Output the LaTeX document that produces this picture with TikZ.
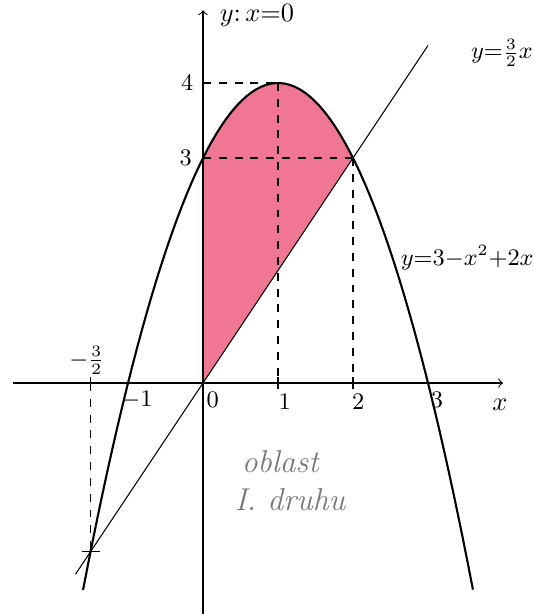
\documentclass[tikz,border=0pt]{standalone}
\usepackage{amsmath, amssymb}
\usepackage{tikz}

\definecolor{areapink}{RGB}{240,118,148}
\definecolor{notegray}{RGB}{120,120,120}

\begin{document}
\begin{tikzpicture}[x=1cm, y=1cm,
    curve/.style={thick, black},
    helper/.style={dashed, thin},
    ticklbl/.style={inner sep=1pt, font=\small}]

    \useasboundingbox (-2.707,-3.08) rectangle (4.4,5.107);

    % ==========================================
    % SHADED REGION
    % Drawn first so it lies behind the curves and axes
    % ==========================================
    \fill[areapink] plot[domain=0:2, samples=40] (\x, {3-\x*\x+2*\x}) -- (0,0) -- cycle;

    % ==========================================
    % KEY POINTS
    % ==========================================
    \coordinate (O) at (0,0);
    \coordinate (Top) at (1,4);
    \coordinate (Meet) at (2,3);
    \coordinate (Low) at (-1.5,-2.25);
    \coordinate (Y4) at (0,4);
    \coordinate (Y3) at (0,3);
    \coordinate (X1) at (1,0);
    \coordinate (X2) at (2,0);
    \coordinate (Xm) at (-1.5,0);

    % ==========================================
    % DASHED HELPER LINES
    % ==========================================
    \draw[helper] (Y4) -- (Top);
    \draw[helper] (Top) -- (X1);
    \draw[helper] (Y3) -- (Meet);
    \draw[helper] (Meet) -- (X2);
    \draw[helper] (Xm) -- (Low);

    % ==========================================
    % AXES
    % ==========================================
    \coordinate (xl) at (-2.53,0);
    \coordinate (xr) at (4.0,0);
    \coordinate (yb) at (0,-3.08);
    \coordinate (yt) at (0,4.97);
    \draw[->] (xl) -- (xr);
    \draw[->] (yb) -- (yt);
    \node[anchor=west] (ylabel) at (0.1,4.9) {$y{:}\,x{=}0$};
    \node (xlabel) at (3.96,-0.29) {$x$};

    % Ticks on the x-axis
    \foreach \t in {-1.5,1,2} {
        \draw (\t,-0.08) -- (\t,0.08);
    }
    \draw (-1.62,-2.25) -- (-1.38,-2.25);

    % Tick labels
    \node[ticklbl] (lm1) at (-0.88,-0.23) {$-1$};
    \node[ticklbl] (l0) at (0.13,-0.23) {$0$};
    \node[ticklbl] (l1) at (1.09,-0.25) {$1$};
    \node[ticklbl] (l2) at (2.07,-0.25) {$2$};
    \node[ticklbl] (l3) at (3.12,-0.23) {$3$};
    \node[ticklbl] (lm32) at (-1.55,0.3) {$-\frac{3}{2}$};
    \node[ticklbl] (l4) at (-0.21,4) {$4$};
    \node[ticklbl] (l3y) at (-0.23,3) {$3$};

    % ==========================================
    % CURVES
    % ==========================================
    % Parabola y = 3 - x^2 + 2x
    \draw[curve] plot[domain=-1.6:3.6, samples=80] (\x, {3-\x*\x+2*\x});
    \node[anchor=west, inner sep=0pt, font=\small] (parlbl) at (2.63,1.67) {$y{=}3{-}x^2{+}2x$};

    % Line y = 3/2 x
    \coordinate (la) at (-1.7,-2.55);
    \coordinate (lb) at (3.0,4.5);
    \draw (la) -- (lb);
    \node[anchor=west, font=\small] (linlbl) at (3.45,4.4) {$y{=}\frac{3}{2}x$};

    % ==========================================
    % NOTE
    % ==========================================
    \node[notegray, font=\itshape\large] (note1) at (1.03,-1.05) {oblast};
    \node[notegray, font=\itshape\large] (note2) at (1.16,-1.56) {I. druhu};

\end{tikzpicture}
\end{document}
